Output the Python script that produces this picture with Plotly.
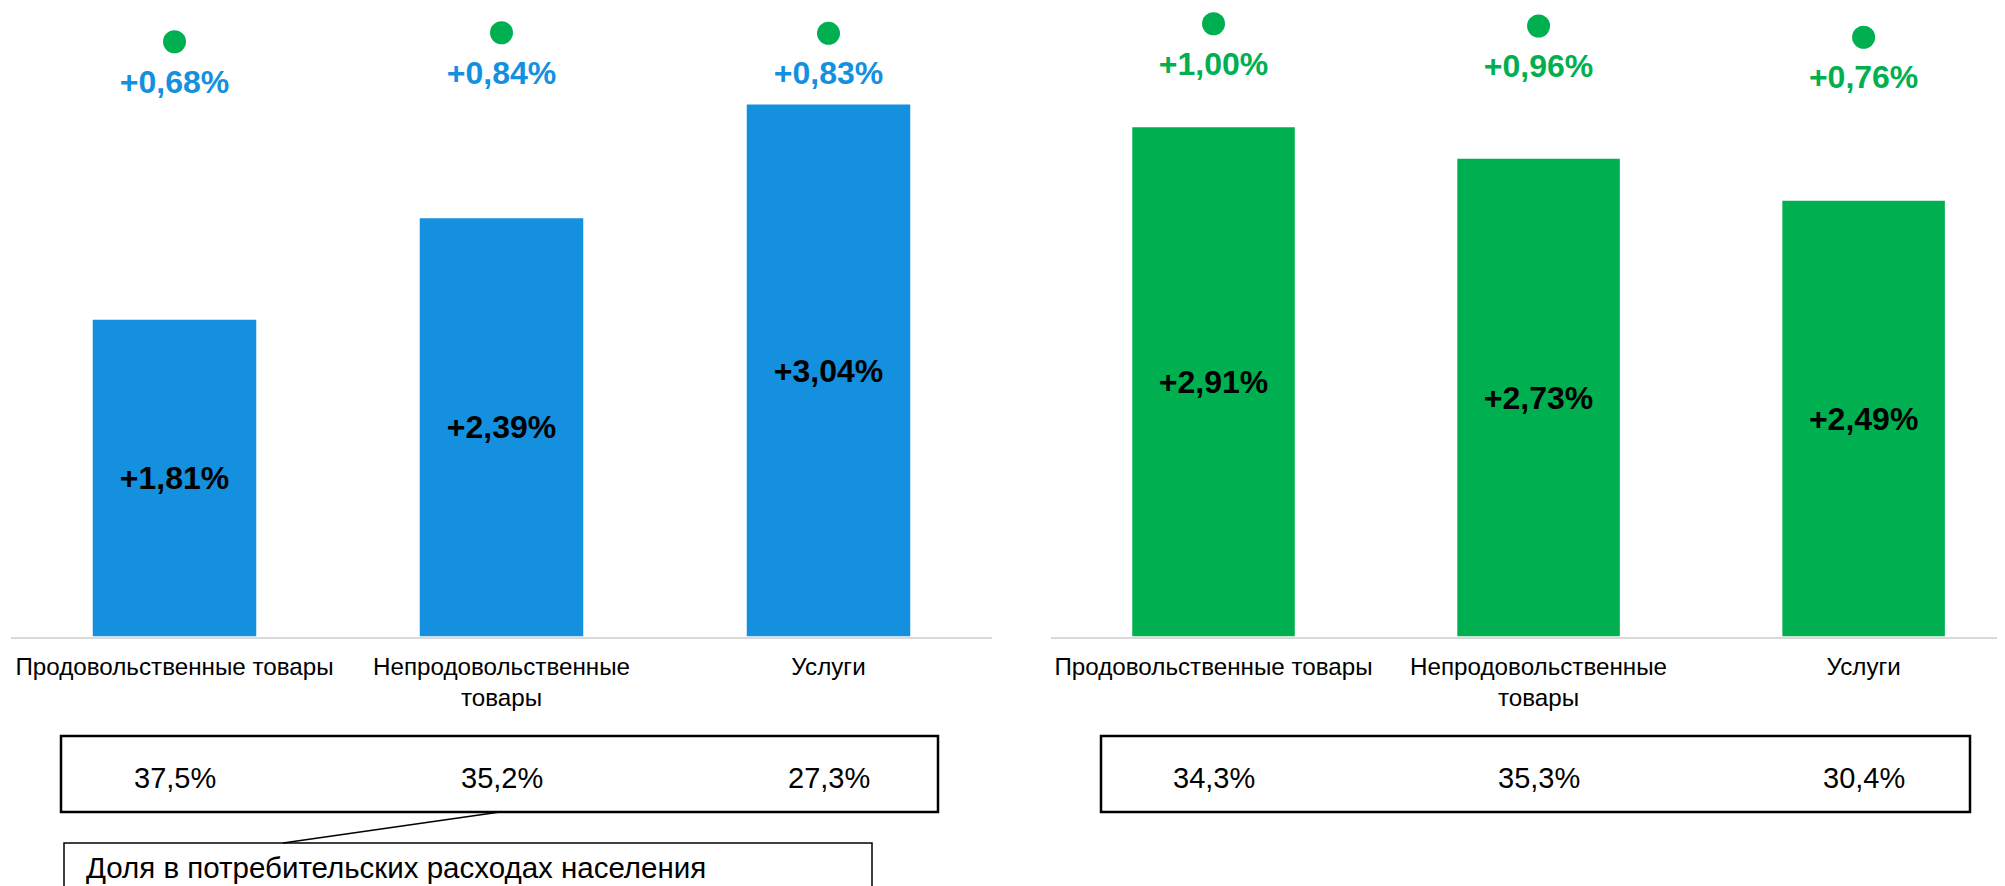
import plotly.graph_objects as go

# ---- data ----
categories = ["Продовольственные товары", "Непродовольственные<br>товары", "Услуги"]
left_bars = [1.81, 2.39, 3.04]
left_dots = [0.68, 0.84, 0.83]
left_shares = ["37,5%", "35,2%", "27,3%"]
right_bars = [2.91, 2.73, 2.49]
right_dots = [1.00, 0.96, 0.76]
right_shares = ["34,3%", "35,3%", "30,4%"]
callout_text = "Доля в потребительских расходах населения"


def fmt_pct(v):
    return f"{v:+.2f}%".replace(".", ",")


# ---- styling / page geometry ----
PAGE_W, PAGE_H = 2005, 886
OFF = 8                       # default body margin of the html page
FW, FH = PAGE_W - OFF, PAGE_H - OFF
BLUE = "#1490DF"
GREEN = "#00B050"
FONT = "Liberation Sans, Arial, sans-serif"


def px(X):
    return (X - OFF) / FW


def py(Y):
    return (PAGE_H - Y) / FH


base_Y = 636.5          # page y of the category axis
top_Y = OFF             # page y of top of plot domain
bar_scale = 175.0       # px per unit (bars)
dot_zero_Y = 80.0
dot_scale = 56.25       # px per unit (dots)
label_gap = 43.0        # px between dot centre and its label centre

y_dom = [py(base_Y), 1.0]
y_range = [0, (base_Y - top_Y) / bar_scale]
y2_range = [(dot_zero_Y - base_Y) / dot_scale, (dot_zero_Y - top_Y) / dot_scale]
shift = label_gap / dot_scale
y_txt_range = [y2_range[0] + shift, y2_range[1] + shift]

fig = go.Figure()


def add_panel(bars, dots, xa, ya, ya_dot, ya_txt, color):
    fig.add_trace(go.Bar(
        x=categories, y=bars, xaxis=xa, yaxis=ya, width=0.5,
        marker=dict(color=color, line=dict(width=0)),
        text=[fmt_pct(v) for v in bars], textposition="inside",
        insidetextanchor="middle", textangle=0,
        textfont=dict(family=FONT, size=32, color="black", weight="bold"),
        hoverinfo="skip", showlegend=False,
    ))
    fig.add_trace(go.Scatter(
        x=categories, y=dots, xaxis=xa, yaxis=ya_dot, mode="markers",
        marker=dict(color=GREEN, size=23),
        cliponaxis=False, hoverinfo="skip", showlegend=False,
    ))
    fig.add_trace(go.Scatter(
        x=categories, y=dots, xaxis=xa, yaxis=ya_txt, mode="text",
        text=[fmt_pct(v) for v in dots], textposition="middle center",
        textfont=dict(family=FONT, size=32, color=color, weight="bold"),
        cliponaxis=False, hoverinfo="skip", showlegend=False,
    ))


add_panel(left_bars, left_dots, "x", "y", "y2", "y3", BLUE)
add_panel(right_bars, right_dots, "x2", "y4", "y5", "y6", GREEN)

xcommon = dict(showline=True, linecolor="#D9D9D9", linewidth=2, ticks="",
               showgrid=False, zeroline=False, automargin=False,
               tickfont=dict(family=FONT, size=24.2, color="black"),
               ticklabelstandoff=7, fixedrange=True)
ycommon = dict(showgrid=False, zeroline=False, showticklabels=False,
               showline=False, ticks="", automargin=False, fixedrange=True)
yhidden = dict(visible=False, fixedrange=True)

fig.update_layout(
    width=FW, height=FH,
    margin=dict(l=0, r=0, t=0, b=0, pad=0),
    paper_bgcolor="white", plot_bgcolor="rgba(0,0,0,0)",
    xaxis=dict(domain=[px(11), px(992)], range=[-0.5, 2.5], anchor="y", **xcommon),
    yaxis=dict(domain=y_dom, range=y_range, anchor="x", **ycommon),
    yaxis2=dict(overlaying="y", range=y2_range, anchor="x", **yhidden),
    yaxis3=dict(overlaying="y", range=y_txt_range, anchor="x", **yhidden),
    xaxis2=dict(domain=[px(1051), 1.0], range=[-0.5, 2.435], anchor="y4", **xcommon),
    yaxis4=dict(domain=y_dom, range=y_range, anchor="x2", **ycommon),
    yaxis5=dict(overlaying="y4", range=y2_range, anchor="x2", **yhidden),
    yaxis6=dict(overlaying="y4", range=y_txt_range, anchor="x2", **yhidden),
)

# share boxes and callout
shapes = []
for (x0, x1) in [(61, 938), (1101, 1970)]:
    shapes.append(dict(type="rect", xref="paper", yref="paper",
                       x0=px(x0), x1=px(x1), y0=py(812), y1=py(736),
                       line=dict(color="black", width=2.5)))
shapes.append(dict(type="rect", xref="paper", yref="paper",
                   x0=px(64), x1=px(872), y0=py(910), y1=py(843),
                   line=dict(color="black", width=1.5)))
shapes.append(dict(type="line", xref="paper", yref="paper",
                   x0=px(500), y0=py(812), x1=px(283), y1=py(843),
                   line=dict(color="black", width=1.5)))
fig.update_layout(shapes=shapes)

ann = []
for xa, shares in [("x", left_shares), ("x2", right_shares)]:
    for c, s in zip(categories, shares):
        ann.append(dict(x=c, xref=xa, y=py(778), yref="paper", text=s,
                        showarrow=False, xanchor="center", yanchor="middle",
                        font=dict(family=FONT, size=29, color="black")))
ann.append(dict(x=px(84), xref="paper", y=py(867), yref="paper", text=callout_text,
                showarrow=False, xanchor="left", yanchor="middle",
                font=dict(family=FONT, size=29.5, color="black")))
fig.update_layout(annotations=ann)

fig.write_html("out.html", config=dict(displayModeBar=False))
